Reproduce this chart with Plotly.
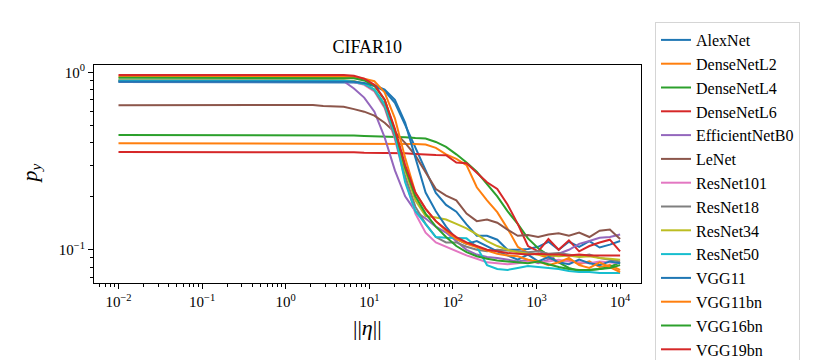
import plotly.graph_objects as go

# ||eta|| grid (log-spaced from 1e-2 to 1e4)
ETA = [0.01, 0.01326, 0.01758, 0.0233, 0.03089, 0.04095, 0.05429, 0.07197, 0.09541, 0.1265,
       0.1677, 0.2223, 0.2947, 0.3907, 0.5179, 0.6866, 0.9103, 1.207, 1.6, 2.121,
       2.812, 3.728, 4.942, 6.551, 8.685, 11.51, 15.26, 20.24, 26.83, 35.56,
       47.15, 62.51, 82.86, 109.9, 145.6, 193.1, 256.0, 339.3, 449.9, 596.4,
       790.6, 1048, 1389, 1842, 2442, 3237, 4292, 5690, 7543, 10000]

AlexNet = [0.882, 0.882, 0.883, 0.882, 0.882, 0.882, 0.883, 0.882, 0.882, 0.882,
           0.882, 0.883, 0.882, 0.882, 0.882, 0.882, 0.882, 0.883, 0.882, 0.882,
           0.882, 0.881, 0.880, 0.876, 0.860, 0.837, 0.785, 0.672, 0.505, 0.375,
           0.275, 0.209, 0.179, 0.164, 0.139, 0.120, 0.120, 0.114, 0.100, 0.100,
           0.101, 0.104, 0.111, 0.100, 0.111, 0.104, 0.112, 0.103, 0.107, 0.112]
DenseNetL2 = [0.398, 0.398, 0.398, 0.398, 0.398, 0.398, 0.398, 0.398, 0.398, 0.398,
              0.398, 0.398, 0.398, 0.398, 0.398, 0.398, 0.398, 0.398, 0.398, 0.398,
              0.398, 0.398, 0.398, 0.398, 0.397, 0.396, 0.397, 0.396, 0.396, 0.395,
              0.392, 0.375, 0.345, 0.325, 0.300, 0.225, 0.190, 0.163, 0.132, 0.104,
              0.096, 0.094, 0.090, 0.085, 0.088, 0.083, 0.086, 0.080, 0.082, 0.077]
DenseNetL4 = [0.444, 0.444, 0.444, 0.444, 0.444, 0.444, 0.444, 0.444, 0.444, 0.444,
              0.444, 0.444, 0.444, 0.444, 0.444, 0.444, 0.444, 0.444, 0.444, 0.444,
              0.444, 0.444, 0.443, 0.440, 0.438, 0.437, 0.435, 0.434, 0.430, 0.426,
              0.424, 0.405, 0.380, 0.345, 0.310, 0.275, 0.235, 0.200, 0.165, 0.140,
              0.116, 0.102, 0.093, 0.085, 0.079, 0.076, 0.077, 0.078, 0.080, 0.085]
DenseNetL6 = [0.356, 0.356, 0.356, 0.356, 0.356, 0.356, 0.356, 0.356, 0.356, 0.356,
              0.356, 0.356, 0.356, 0.356, 0.356, 0.356, 0.356, 0.356, 0.356, 0.356,
              0.356, 0.355, 0.355, 0.354, 0.352, 0.352, 0.353, 0.352, 0.350, 0.347,
              0.343, 0.342, 0.341, 0.310, 0.307, 0.270, 0.240, 0.220, 0.180, 0.140,
              0.105, 0.098, 0.115, 0.100, 0.113, 0.098, 0.105, 0.110, 0.114, 0.098]
EfficientNetB0 = [0.900, 0.900, 0.900, 0.900, 0.900, 0.900, 0.900, 0.900, 0.900, 0.900,
                  0.900, 0.900, 0.900, 0.900, 0.900, 0.900, 0.900, 0.900, 0.900, 0.900,
                  0.900, 0.898, 0.890, 0.810, 0.720, 0.600, 0.430, 0.280, 0.200, 0.165,
                  0.150, 0.135, 0.125, 0.112, 0.100, 0.094, 0.091, 0.090, 0.088, 0.086,
                  0.088, 0.084, 0.088, 0.095, 0.100, 0.108, 0.112, 0.117, 0.118, 0.122]
LeNet = [0.652, 0.652, 0.652, 0.652, 0.652, 0.652, 0.652, 0.652, 0.652, 0.652,
         0.652, 0.652, 0.652, 0.652, 0.652, 0.652, 0.652, 0.652, 0.652, 0.655,
         0.645, 0.640, 0.640, 0.620, 0.600, 0.570, 0.520, 0.460, 0.400, 0.340,
         0.275, 0.220, 0.202, 0.190, 0.160, 0.145, 0.148, 0.142, 0.130, 0.120,
         0.121, 0.118, 0.122, 0.124, 0.120, 0.125, 0.118, 0.128, 0.130, 0.115]
ResNet101 = [0.890, 0.890, 0.890, 0.890, 0.890, 0.890, 0.890, 0.890, 0.890, 0.890,
             0.890, 0.890, 0.890, 0.890, 0.890, 0.890, 0.890, 0.890, 0.890, 0.890,
             0.890, 0.890, 0.890, 0.880, 0.850, 0.780, 0.630, 0.420, 0.250, 0.160,
             0.125, 0.110, 0.104, 0.098, 0.093, 0.089, 0.085, 0.084, 0.083, 0.084,
             0.086, 0.085, 0.086, 0.088, 0.086, 0.085, 0.084, 0.086, 0.085, 0.084]
ResNet18 = [0.900, 0.900, 0.900, 0.900, 0.900, 0.900, 0.900, 0.900, 0.900, 0.900,
            0.900, 0.900, 0.900, 0.900, 0.900, 0.900, 0.900, 0.900, 0.900, 0.900,
            0.900, 0.900, 0.900, 0.890, 0.860, 0.790, 0.640, 0.430, 0.260, 0.175,
            0.140, 0.118, 0.110, 0.110, 0.104, 0.100, 0.098, 0.100, 0.099, 0.098,
            0.097, 0.098, 0.095, 0.096, 0.094, 0.092, 0.094, 0.090, 0.088, 0.086]
ResNet34 = [0.900, 0.900, 0.900, 0.900, 0.900, 0.900, 0.900, 0.900, 0.900, 0.900,
            0.900, 0.900, 0.900, 0.900, 0.900, 0.900, 0.900, 0.900, 0.900, 0.900,
            0.900, 0.900, 0.900, 0.890, 0.865, 0.800, 0.660, 0.460, 0.280, 0.190,
            0.155, 0.152, 0.148, 0.140, 0.132, 0.122, 0.112, 0.105, 0.100, 0.097,
            0.095, 0.094, 0.093, 0.092, 0.093, 0.091, 0.092, 0.090, 0.089, 0.088]
ResNet50 = [0.895, 0.895, 0.895, 0.895, 0.895, 0.895, 0.895, 0.895, 0.895, 0.895,
            0.895, 0.895, 0.895, 0.895, 0.895, 0.895, 0.895, 0.895, 0.895, 0.895,
            0.895, 0.895, 0.895, 0.885, 0.860, 0.800, 0.660, 0.450, 0.240, 0.165,
            0.140, 0.118, 0.117, 0.117, 0.116, 0.104, 0.082, 0.078, 0.077, 0.079,
            0.081, 0.080, 0.079, 0.078, 0.076, 0.075, 0.075, 0.074, 0.074, 0.074]
VGG11 = [0.888, 0.888, 0.888, 0.888, 0.888, 0.888, 0.888, 0.888, 0.888, 0.888,
         0.888, 0.888, 0.888, 0.888, 0.888, 0.888, 0.888, 0.888, 0.888, 0.888,
         0.888, 0.888, 0.888, 0.885, 0.870, 0.845, 0.800, 0.700, 0.520, 0.330,
         0.210, 0.165, 0.135, 0.115, 0.108, 0.112, 0.105, 0.098, 0.093, 0.088,
         0.094, 0.086, 0.091, 0.085, 0.083, 0.088, 0.084, 0.082, 0.086, 0.084]
VGG11bn = [0.945, 0.945, 0.945, 0.945, 0.945, 0.945, 0.945, 0.945, 0.945, 0.945,
           0.945, 0.945, 0.945, 0.945, 0.945, 0.945, 0.945, 0.945, 0.945, 0.945,
           0.945, 0.945, 0.945, 0.940, 0.920, 0.890, 0.770, 0.550, 0.330, 0.210,
           0.170, 0.145, 0.128, 0.115, 0.108, 0.103, 0.099, 0.095, 0.093, 0.092,
           0.088, 0.086, 0.082, 0.085, 0.090, 0.082, 0.079, 0.085, 0.080, 0.075]
VGG16bn = [0.930, 0.930, 0.930, 0.930, 0.930, 0.930, 0.930, 0.930, 0.930, 0.930,
           0.930, 0.930, 0.930, 0.930, 0.930, 0.930, 0.930, 0.930, 0.930, 0.930,
           0.930, 0.930, 0.930, 0.925, 0.900, 0.840, 0.700, 0.470, 0.290, 0.200,
           0.160, 0.135, 0.118, 0.105, 0.097, 0.092, 0.089, 0.087, 0.086, 0.085,
           0.084, 0.086, 0.083, 0.080, 0.078, 0.077, 0.077, 0.078, 0.079, 0.082]
VGG19bn = [0.965, 0.965, 0.965, 0.965, 0.965, 0.965, 0.965, 0.965, 0.965, 0.965,
           0.965, 0.965, 0.965, 0.965, 0.965, 0.965, 0.965, 0.965, 0.965, 0.965,
           0.965, 0.965, 0.965, 0.955, 0.920, 0.850, 0.700, 0.480, 0.300, 0.210,
           0.170, 0.145, 0.130, 0.118, 0.110, 0.105, 0.100, 0.098, 0.096, 0.095,
           0.094, 0.095, 0.094, 0.094, 0.093, 0.094, 0.093, 0.093, 0.093, 0.093]

MODELS = ["AlexNet", "DenseNetL2", "DenseNetL4", "DenseNetL6", "EfficientNetB0", "LeNet",
          "ResNet101", "ResNet18", "ResNet34", "ResNet50", "VGG11", "VGG11bn", "VGG16bn", "VGG19bn"]
SERIES = [AlexNet, DenseNetL2, DenseNetL4, DenseNetL6, EfficientNetB0, LeNet,
          ResNet101, ResNet18, ResNet34, ResNet50, VGG11, VGG11bn, VGG16bn, VGG19bn]
COLORS = ["#1f77b4", "#ff7f0e", "#2ca02c", "#d62728", "#9467bd", "#8c564b",
          "#e377c2", "#7f7f7f", "#bcbd22", "#17becf"]

X_TICKS = [0.01, 0.1, 1, 10, 100, 1000, 10000]
X_TICK_TEXT = ["10<sup>−2</sup>", "10<sup>−1</sup>", "10<sup>0</sup>", "10<sup>1</sup>",
               "10<sup>2</sup>", "10<sup>3</sup>", "10<sup>4</sup>"]
Y_TICKS = [0.1, 1]
Y_TICK_TEXT = ["10<sup>−1</sup>", "10<sup>0</sup>"]
MANTISSAS = [2, 3, 4, 5, 6, 7, 8, 9]
X_MINOR = [m * d for d in [0.001, 0.01, 0.1, 1, 10, 100, 1000, 10000] for m in MANTISSAS]
Y_MINOR = [m * d for d in [0.01, 0.1] for m in MANTISSAS]

FONT = "Liberation Serif"

fig = go.Figure()
for i, (name, ys) in enumerate(zip(MODELS, SERIES)):
    fig.add_trace(go.Scatter(x=ETA, y=ys, mode="lines", name=name,
                             line=dict(color=COLORS[i % 10], width=2)))

# page has an 8px body margin: figure coords = page coords - 8
OFF = 8
W, H = 840, 380
L, R, T, B = 93.5 - OFF, 641 - OFF, 65 - OFF, 283 - OFF

axis_common = dict(type="log", showline=True, linecolor="black", linewidth=1, mirror=True,
                   ticks="outside", ticklen=5, tickwidth=1, tickcolor="black",
                   showgrid=False, zeroline=False, tickmode="array",
                   tickfont=dict(family=FONT, size=15, color="black"))

fig.update_layout(
    width=W, height=H,
    margin=dict(l=L, r=W - R, t=T, b=H - B, pad=0),
    paper_bgcolor="white", plot_bgcolor="white",
    font=dict(family=FONT, color="black"),
    title=dict(text="CIFAR10", x=(L + R) / 2 / W, xanchor="center",
               y=1 - (47 - OFF) / H, yanchor="middle",
               font=dict(family=FONT, size=18, color="black")),
    xaxis=dict(range=[-2.293, 4.25], tickvals=X_TICKS, ticktext=X_TICK_TEXT,
               minor=dict(tickmode="array", tickvals=X_MINOR, ticks="outside", ticklen=3,
                          tickwidth=0.8, tickcolor="black", showgrid=False),
               **axis_common),
    yaxis=dict(range=[-1.187, 0.041], tickvals=Y_TICKS, ticktext=Y_TICK_TEXT,
               minor=dict(tickmode="array", tickvals=Y_MINOR, ticks="outside", ticklen=3,
                          tickwidth=0.8, tickcolor="black", showgrid=False),
               **axis_common),
    showlegend=True,
    legend=dict(x=(655 - OFF - L) / (R - L), y=(B - (22 - OFF)) / (B - T),
                xanchor="left", yanchor="top", maxheight=420,
                bgcolor="white", bordercolor="#d5d5d5", borderwidth=1,
                font=dict(family=FONT, size=16, color="black"), tracegroupgap=0),
    annotations=[
        dict(text="||<i>η</i>||", xref="paper", yref="paper", x=0.5, y=0,
             yshift=-(327 - 283), xanchor="center", yanchor="middle", showarrow=False,
             font=dict(family=FONT, size=22, color="black")),
        dict(text="<i>p</i><sub><i>y</i></sub>", xref="paper", yref="paper", x=0, y=0.5,
             xshift=-(93.5 - 30), xanchor="center", yanchor="middle", showarrow=False,
             textangle=-90, font=dict(family=FONT, size=22, color="black")),
    ],
)

fig.write_html("out.html")
